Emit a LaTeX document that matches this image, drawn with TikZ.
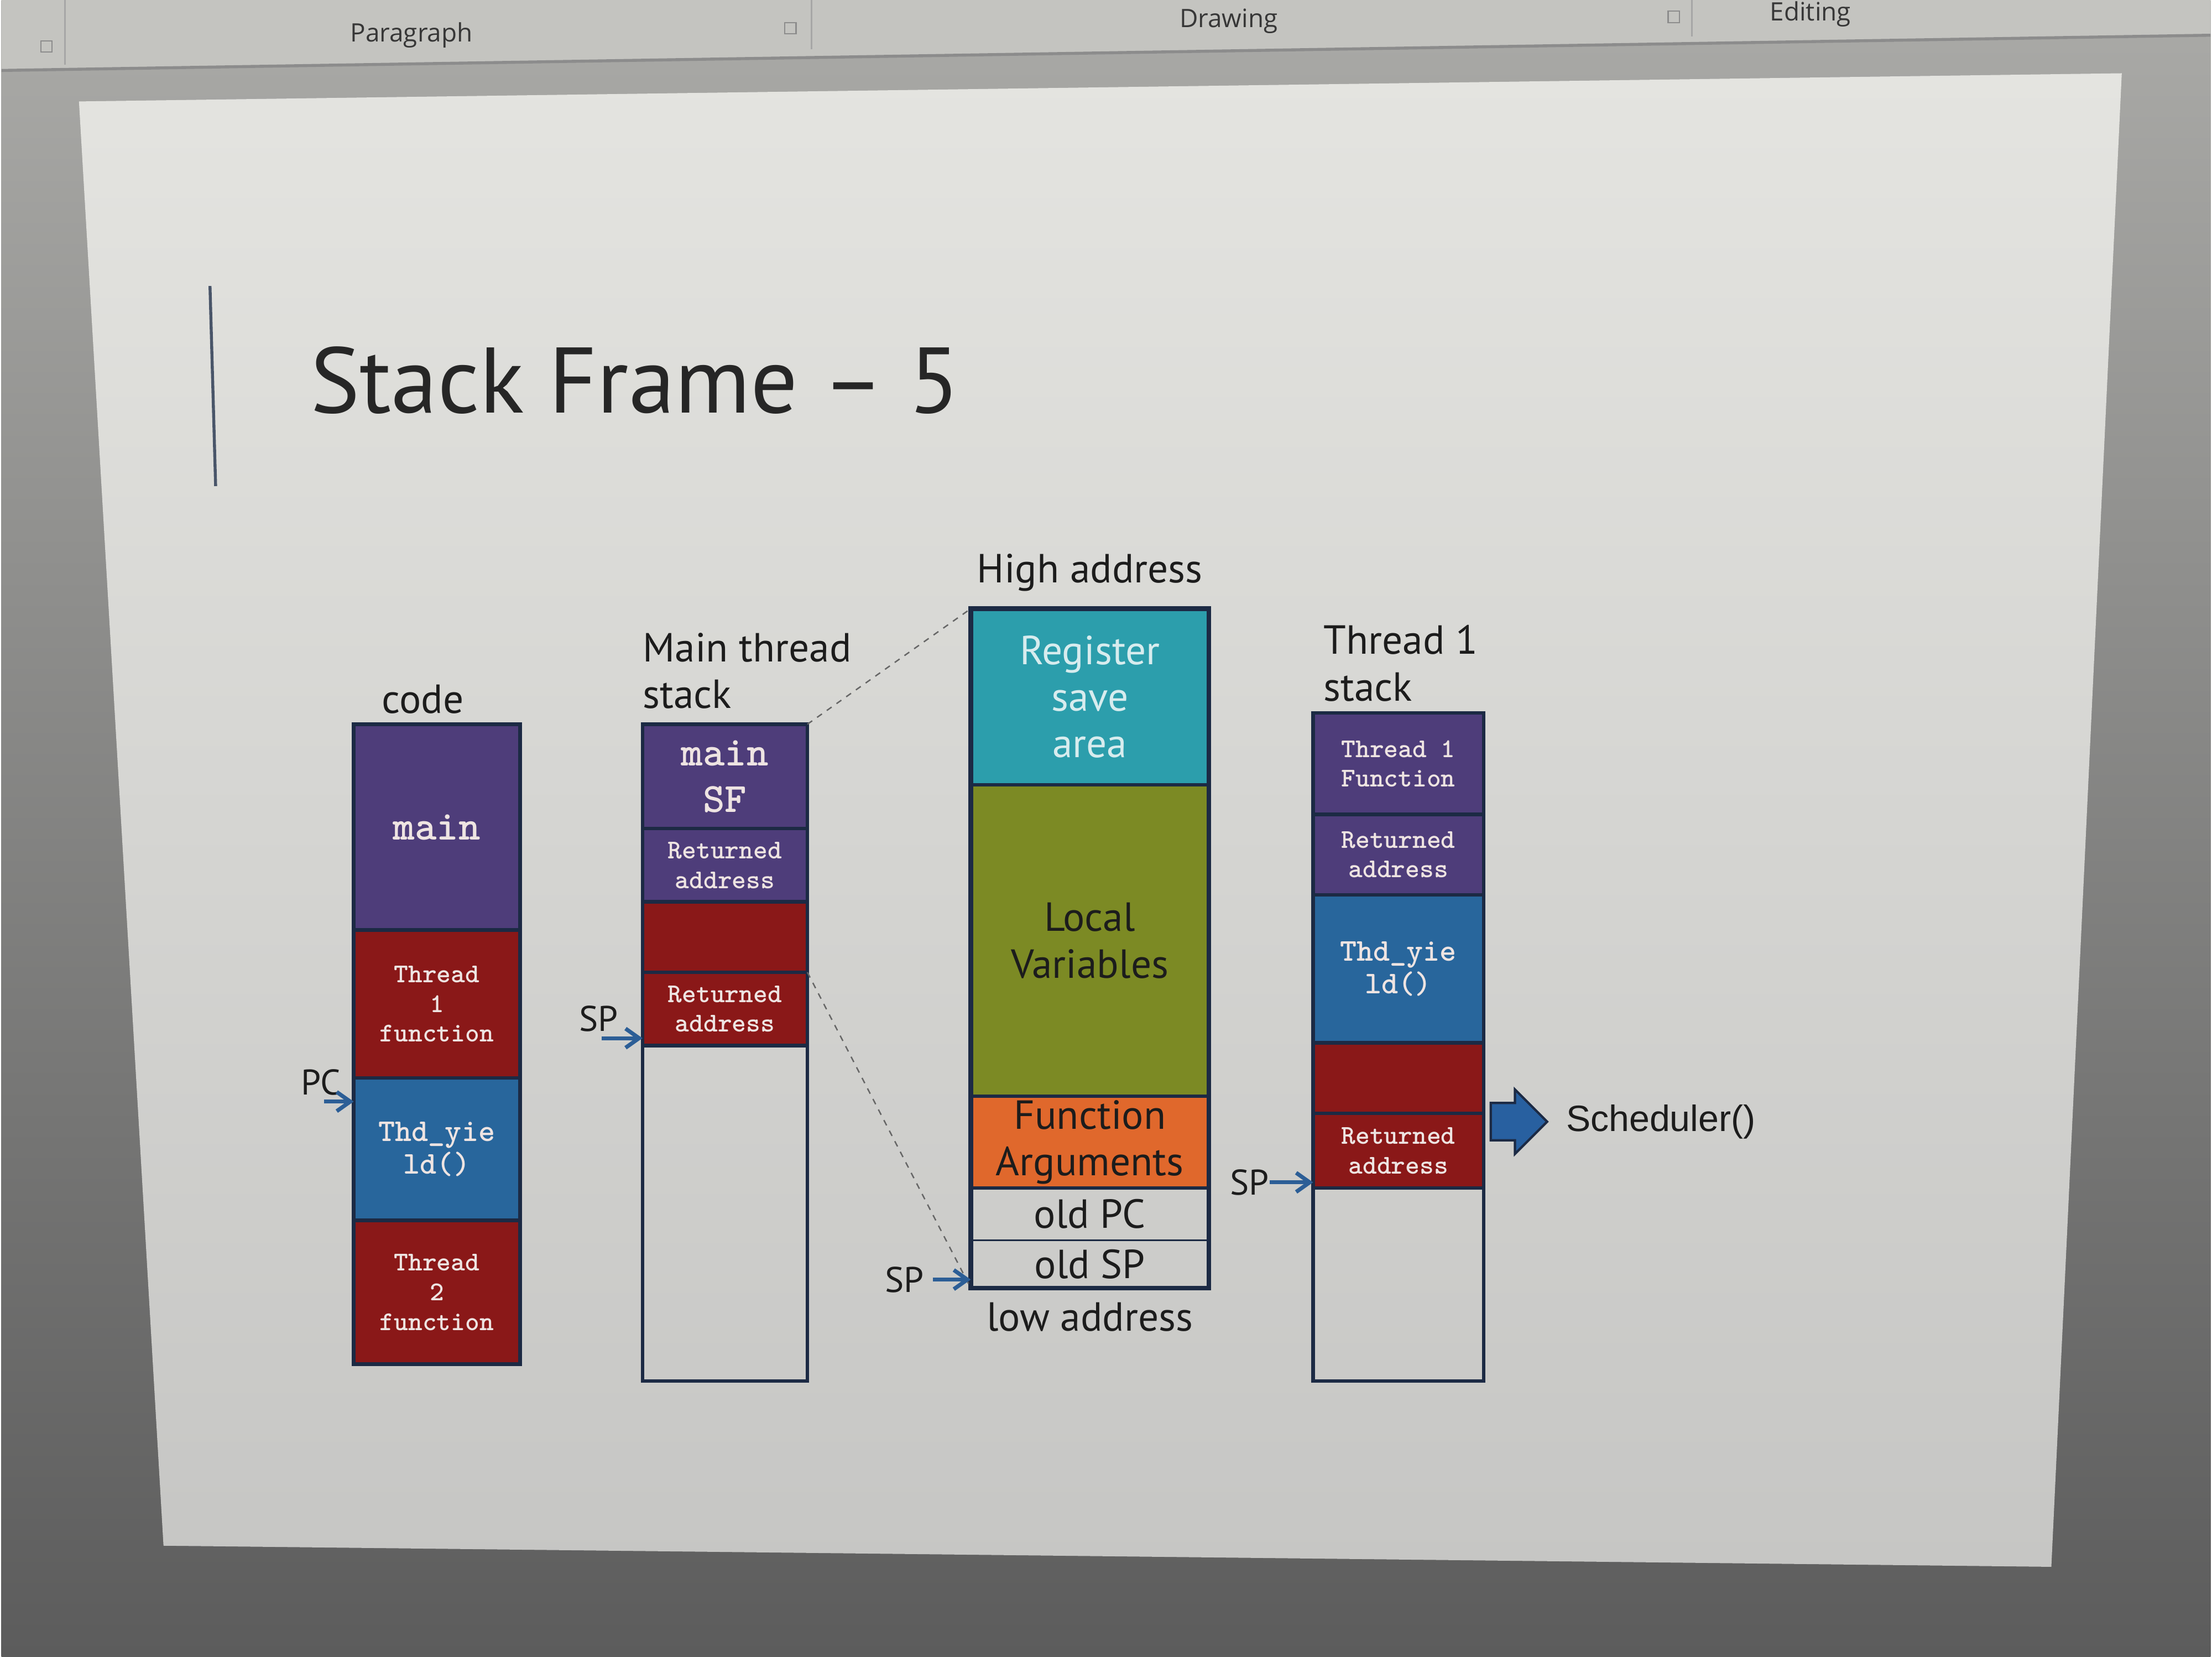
\documentclass[tikz,border=0pt]{standalone}
\usepackage{fontspec}
\setmainfont{PT Sans}
\setsansfont{Open Sans}
\newfontfamily\arialfont{Liberation Sans}
\usetikzlibrary{arrows.meta,positioning,shapes.arrows}
\definecolor{sfedge}{RGB}{28,42,68}
\definecolor{sfpurple}{RGB}{78,61,122}
\definecolor{sfred}{RGB}{138,24,24}
\definecolor{sfblue}{RGB}{40,102,156}
\definecolor{sfteal}{RGB}{44,158,172}
\definecolor{sfolive}{RGB}{124,138,36}
\definecolor{sforange}{RGB}{224,104,44}
\definecolor{sfptr}{RGB}{44,94,150}
\definecolor{sfblk}{RGB}{40,96,160}
\definecolor{sfink}{RGB}{28,28,28}
\definecolor{sftext}{RGB}{238,228,226}
\definecolor{sfpale}{RGB}{215,236,238}
\definecolor{scrtop}{RGB}{170,170,167}
\definecolor{scrbot}{RGB}{92,92,92}
\definecolor{ribfill}{RGB}{196,196,192}
\definecolor{ribink}{RGB}{55,55,55}
\definecolor{slidetop}{RGB}{228,228,224}
\definecolor{slidebot}{RGB}{198,198,196}
\newcommand\ttlfont{\fontsize{47}{52}\selectfont}
\newcommand\lblfont{\fontsize{20.5}{23.5}\selectfont}
\newcommand\ptrfont{\fontsize{18}{20}\selectfont}
\newcommand\bigmono{\ttfamily\bfseries\fontsize{21}{23.5}\selectfont}
\newcommand\smallmono{\ttfamily\bfseries\fontsize{13.7}{15}\selectfont}
\newcommand\yldmono{\ttfamily\bfseries\fontsize{16}{16.5}\selectfont}
\newcommand\schfont{\arialfont\fontsize{18.5}{22}\selectfont}
\newcommand\ribfont{\sffamily\fontsize{12.8}{15}\selectfont}
\tikzset{
  seg/.style={
    draw=sfedge, line width=1.8pt, outer sep=0pt, inner sep=0pt,
    align=center, text=sftext
  },
  code/.style={seg, minimum width=2.95cm},
  mstk/.style={seg, minimum width=2.925cm},
  frm/.style={seg, minimum width=4.225cm, font=\lblfont},
  tstk/.style={seg, minimum width=3.025cm},
  frmout/.style={draw=sfedge, line width=2.4pt},
  lbl/.style={inner sep=0pt, font=\lblfont, text=sfink, align=left},
  ptrlbl/.style={inner sep=0pt, font=\ptrfont, text=sfink},
  ptr/.style={-{Straight Barb[length=2.4mm,width=3.4mm]}, draw=sfptr, line width=2pt},
  dsh/.style={draw=black!60, dashed, line width=0.7pt},
  bigarr/.style={
    single arrow, draw=sfedge, fill=sfblk, line width=1.2pt,
    minimum height=1cm, single arrow head extend=0.24cm,
    inner xsep=0pt, inner ysep=0.31cm
  },
  sch/.style={inner sep=0pt, font=\schfont, text=sfink},
  ttl/.style={inner sep=0pt, font=\ttlfont, text=black!85},
  rib/.style={inner sep=0pt, font=\ribfont, text=ribink},
  ribsep/.style={draw=black!35, line width=0.8pt},
  launch/.style={draw=black!45, line width=0.6pt, minimum size=0.2cm, inner sep=0pt}
}
\begin{document}
\begin{tikzpicture}[x=0.025cm, y=-0.025cm, node distance=0pt]
  % screen, ribbon and slide
  \shade[top color=scrtop, bottom color=scrbot] (0,0) rectangle (1568,1176);
  \fill[ribfill] (0,0) -- (1568,0) -- (1568,25) -- (0,50) -- cycle;
  \draw[black!45, line width=1.5pt] (0,50) -- (1568,25);
  \shade[top color=slidetop, bottom color=slidebot]
    (55,72) -- (1505,52) -- (1455,1112) -- (115,1097) -- cycle;
  \useasboundingbox (0,0) rectangle (1568,1176);
  \draw[ribsep] (45,0) -- (45,46);
  \draw[ribsep] (575,0) -- (575,35);
  \draw[ribsep] (1200,0) -- (1200,26);
  \node[launch] (ln1) at (32,33) {};
  \node[launch] (ln2) at (560,20) {};
  \node[launch] (ln3) at (1187,12) {};
  \node[rib] (rpar) at (291,25) {Paragraph};
  \node[rib] (rdrw) at (871,15) {Drawing};
  \node[rib] (redt) at (1284,10) {Editing};

  \draw[sfedge!80, line width=1.5pt] (148,203) -- (152,345);
  \node[ttl, anchor=base west] (title) at (219,293) {Stack Frame – 5};

  % code
  \node[code, fill=sfpurple, minimum height=3.65cm, font=\bigmono, anchor=north west] (cmain) at (250,514) {main};
  \node[code, fill=sfred, minimum height=2.625cm, font=\smallmono, below=of cmain] (cthr1) {Thread\\1\\function};
  \node[code, fill=sfblue, minimum height=2.525cm, font=\yldmono, below=of cthr1] (cyld) {Thd\_yie\\ld()};
  \node[code, fill=sfred, minimum height=2.55cm, font=\smallmono, below=of cyld] (cthr2) {Thread\\2\\function};
  \node[lbl, above=0.18cm of cmain, xshift=-0.25cm] (lcode) {code};

  % main thread stack
  \node[mstk, fill=sfpurple, minimum height=1.85cm, font=\bigmono, anchor=north west] (msf) at (455,514) {main\\SF};
  \node[mstk, fill=sfpurple, minimum height=1.3cm, font=\smallmono, below=of msf] (mret1) {Returned\\address};
  \node[mstk, fill=sfred, minimum height=1.25cm, below=of mret1] (mred) {};
  \node[mstk, fill=sfred, minimum height=1.3cm, font=\smallmono, below=of mred] (mret2) {Returned\\address};
  \node[mstk, minimum height=5.95cm, below=of mret2] (mfree) {};
  \node[lbl, anchor=south west] (lmain) at ([yshift=0.27cm]msf.north west) {Main thread\\stack};

  % one stack frame
  \node[frm, fill=sfteal, text=sfpale, minimum height=3.125cm, anchor=north west] (freg) at (688,432) {Register\\save\\area};
  \node[frm, fill=sfolive, text=sfink, minimum height=5.525cm, below=of freg] (floc) {Local\\Variables};
  \node[frm, fill=sforange, text=sfink, minimum height=1.625cm, below=of floc] (fargs) {Function\\Arguments};
  \node[frm, text=sfink, line width=0.8pt, minimum height=0.925cm, below=of fargs] (oldpc) {old PC};
  \node[frm, text=sfink, line width=0.8pt, minimum height=0.85cm, below=of oldpc] (oldsp) {old SP};
  \draw[frmout] (freg.north west) rectangle (oldsp.south east);
  \node[lbl, above=0.3cm of freg] (lhigh) {High address};
  \node[lbl, below=0.25cm of oldsp] (llow) {low address};

  % thread 1 stack
  \node[tstk, fill=sfpurple, minimum height=1.8cm, font=\smallmono, anchor=north west] (tfn) at (931,506) {Thread 1\\Function};
  \node[tstk, fill=sfpurple, minimum height=1.425cm, font=\smallmono, below=of tfn] (tret1) {Returned\\address};
  \node[tstk, fill=sfblue, minimum height=2.625cm, font=\yldmono, below=of tret1] (tyld) {Thd\_yie\\ld()};
  \node[tstk, fill=sfred, minimum height=1.25cm, below=of tyld] (tred) {};
  \node[tstk, fill=sfred, minimum height=1.325cm, font=\smallmono, below=of tred] (tret2) {Returned\\address};
  \node[tstk, minimum height=3.425cm, below=of tret2] (tfree) {};
  \node[lbl, anchor=south west] (lthr) at ([xshift=0.18cm,yshift=0.2cm]tfn.north west) {Thread 1\\stack};

  % frame is cut out of the main stack
  \draw[dsh] (msf.north east) -- (freg.north west);
  \draw[dsh] (mret2.north east) -- (oldsp.south west);

  % PC and SP
  \node[ptrlbl, anchor=base east] (pc) at (241,777) {PC};
  \draw[ptr] ([xshift=-0.3cm,yshift=-3pt]pc.south east) -- ([yshift=-3pt]pc.south east -| cyld.west);
  \node[ptrlbl, anchor=base east] (sp1) at (438,732) {SP};
  \draw[ptr] ([xshift=-0.3cm,yshift=-3pt]sp1.south east) -- ([yshift=-3pt]sp1.south east -| mfree.west);
  \node[ptrlbl, anchor=base east] (sp2) at (655,917) {SP};
  \draw[ptr] ([xshift=0.15cm]sp2.east) -- (sp2.east -| oldsp.west);
  \node[ptrlbl, anchor=base east] (sp3) at (900,848) {SP};
  \draw[ptr] (sp3.east) -- (sp3.east -| tfree.west);

  \node[bigarr, anchor=west] (blk) at ([xshift=3pt,yshift=-0.15cm]tred.south east) {};
  \node[sch, right=0.3cm of blk] (sched) {Scheduler()};
\end{tikzpicture}
\end{document}
